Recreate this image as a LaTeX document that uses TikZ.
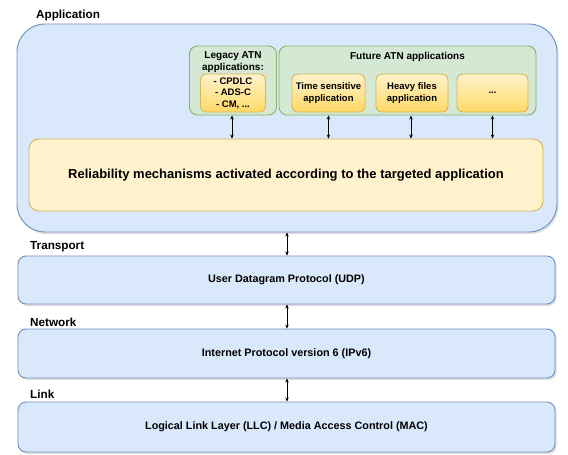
\documentclass[tikz,border=0pt]{standalone}
\usepackage{fontspec}
\setmainfont{Liberation Sans}
\usetikzlibrary{arrows.meta,shadows}

\definecolor{bluefill}{HTML}{DAE8FC}
\definecolor{bluedraw}{HTML}{6C8EBF}
\definecolor{greenfill}{HTML}{D5E8D4}
\definecolor{greendraw}{HTML}{82B366}
\definecolor{yellowfill}{HTML}{FFF2CC}
\definecolor{yellowdeep}{HTML}{FFD966}
\definecolor{yellowdraw}{HTML}{D6B656}

\tikzset{
  box/.style={draw, line width=0.9pt, inner sep=0pt, align=center, font=\bfseries},
  layerbox/.style={box, fill=bluefill, draw=bluedraw, rounded corners=8pt,
    drop shadow={shadow xshift=1.5pt, shadow yshift=-2pt, opacity=0.25},
    font=\bfseries\fontsize{10.8}{13}\selectfont},
  groupbox/.style={box, fill=greenfill, draw=greendraw, rounded corners=8pt},
  grouptitle/.style={inner sep=0pt, align=center, font=\bfseries\fontsize{10}{12}\selectfont},
  appbox/.style={box, draw=yellowdraw, top color=yellowfill, bottom color=yellowdeep,
    rounded corners=6pt, font=\bfseries\fontsize{9.5}{11.5}\selectfont},
  layerlabel/.style={anchor=west, inner sep=0pt, font=\bfseries\fontsize{11.7}{14}\selectfont},
  link/.style={{Stealth[length=4pt,width=3.5pt]}-{Stealth[length=4pt,width=3.5pt]}, line width=0.6pt}
}

\begin{document}
\begin{tikzpicture}[x=1pt, y=-1pt]
  \useasboundingbox (0,0) rectangle (568,455);

  % Application layer container
  \node[layerbox, rounded corners=28pt, minimum width=540pt, minimum height=208pt] (app) at (287,128) {};
  \node[layerlabel] (applbl) at (36,15) {Application};

  % Legacy ATN group
  \node[groupbox, minimum width=87pt, minimum height=69pt] (legacy) at (233,80.5) {};
  \node[grouptitle] (legacytitle) at (233,62) {Legacy ATN\\applications:};
  \node[appbox, minimum width=65pt, minimum height=38pt] (legacyin) at (233,93) {- CPDLC\\- ADS-C\\- CM, ...};

  % Future ATN group
  \node[groupbox, minimum width=257pt, minimum height=69pt] (future) at (407.5,80.5) {};
  \node[grouptitle] (futuretitle) at (407.5,57) {Future ATN applications};
  \node[appbox, minimum width=73pt, minimum height=38pt, font=\bfseries\fontsize{9.5}{12}\selectfont] (timeapp) at (328.5,93) {Time sensitive\\application};
  \node[appbox, minimum width=72pt, minimum height=38pt, font=\bfseries\fontsize{9.5}{12}\selectfont] (heavyapp) at (412,93) {Heavy files\\application};
  \node[appbox, minimum width=71pt, minimum height=38pt] (moreapp) at (492.5,93) {...};

  % Reliability block
  \node[box, draw=yellowdraw, fill=yellowfill, rounded corners=10pt, minimum width=514pt, minimum height=72pt,
        font=\bfseries\fontsize{13}{15}\selectfont] (rel) at (286,175)
        {Reliability mechanisms activated according to the targeted application};

  % Application-to-reliability links
  \draw[link] ([xshift=-1pt]legacy.south) -- ([xshift=-1pt]legacy.south |- rel.north);
  \draw[link] (timeapp.south |- future.south) -- (timeapp.south |- rel.north);
  \draw[link] ([xshift=-1pt]heavyapp.south |- future.south) -- ([xshift=-1pt]heavyapp.south |- rel.north);
  \draw[link] (moreapp.south |- future.south) -- (moreapp.south |- rel.north);

  % Lower layers
  \node[layerlabel] (translbl) at (30,247) {Transport};
  \node[layerbox, minimum width=537pt, minimum height=48pt] (udp) at (286.5,280)
        {User Datagram Protocol (UDP)};
  \node[layerlabel] (netlbl) at (30,322) {Network};
  \node[layerbox, minimum width=537pt, minimum height=49pt] (ipv6) at (286.5,353.5)
        {Internet Protocol version 6 (IPv6)};
  \node[layerlabel] (linklbl) at (30,394) {Link};
  \node[layerbox, minimum width=537pt, minimum height=50pt] (llc) at (286.5,427)
        {Logical Link Layer (LLC) / Media Access Control (MAC)};

  % Inter-layer links
  \draw[link] (app.south) -- (app.south |- udp.north);
  \draw[link] (app.south |- udp.south) -- (app.south |- ipv6.north);
  \draw[link] (app.south |- ipv6.south) -- (app.south |- llc.north);
\end{tikzpicture}
\end{document}
